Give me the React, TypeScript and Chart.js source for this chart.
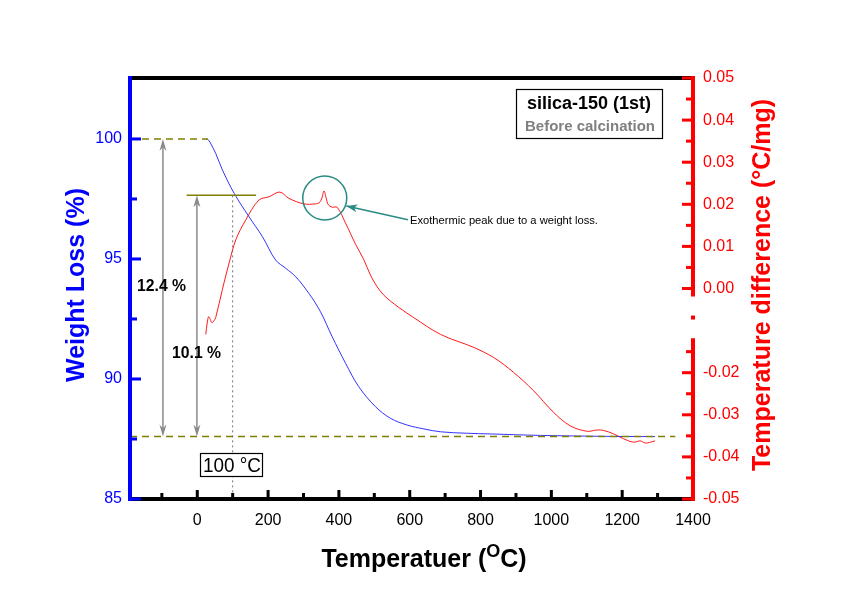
import React, { useEffect, useRef } from "react";
import { Chart, registerables } from "chart.js";

Chart.register(...registerables);

// ---- Data ----
const blueTemps = [25, 32, 40, 52, 71, 104, 146, 184, 221, 250, 278, 315, 348, 381, 419, 456, 503, 546, 593, 640, 687, 760, 828, 969, 1157, 1293];
const weightLoss = [100.0, 99.95, 99.75, 99.4, 98.71, 97.74, 96.76, 95.93, 94.96, 94.61, 94.26, 93.57, 92.8, 91.76, 90.65, 89.68, 88.85, 88.36, 88.08, 87.92, 87.8, 87.74, 87.71, 87.65, 87.61, 87.6];

const redTemps = [24, 28, 32, 37, 41, 46, 52, 71, 90, 109, 137, 174, 203, 233, 259, 301, 334, 345, 352, 358, 364, 370, 381, 395, 419, 433, 447, 470, 489, 508, 527, 546, 569, 611, 687, 781, 837, 893, 950, 1006, 1053, 1100, 1130, 1147, 1175, 1204, 1232, 1251, 1265, 1280, 1293];
const tempDiff = [-0.0109, -0.0082, -0.0067, -0.0074, -0.0081, -0.0078, -0.0069, -0.0002, 0.0061, 0.0116, 0.0163, 0.021, 0.0218, 0.0229, 0.0214, 0.0201, 0.0201, 0.0204, 0.0215, 0.0232, 0.0215, 0.0199, 0.0193, 0.0193, 0.0155, 0.013, 0.0105, 0.0069, 0.0032, 0.0004, -0.0016, -0.003, -0.0045, -0.0069, -0.0109, -0.014, -0.0164, -0.0199, -0.0243, -0.0294, -0.0326, -0.0339, -0.0336, -0.0337, -0.0345, -0.0357, -0.0365, -0.0362, -0.0367, -0.0365, -0.0362];

const xTickValues = [0, 200, 400, 600, 800, 1000, 1200, 1400];
const xMinorTicks = [-100, 100, 300, 500, 700, 900, 1100, 1300];
const leftTickValues = [85, 90, 95, 100];
const leftMinorTicks = [87.5, 92.5, 97.5];
const rightTickValues = [-0.05, -0.04, -0.03, -0.02, -0.01, 0, 0.01, 0.02, 0.03, 0.04, 0.05];
const rightHiddenLabels = [-0.01];
const rightMinorTicks = [-0.045, -0.035, -0.025, -0.015, 0.005, 0.015, 0.025, 0.035, 0.045];
const rightBreak = [-0.0118, -0.0019];

// annotation values
const initialWeight = 100;
const weightAt100 = 97.65;
const finalWeight = 87.6;
const totalLossLabel = "12.4 %";
const lossAfter100Label = "10.1 %";
const markerTemp = 100;
const markerLabel = "100 °C";
const peakTemp = 360;
const peakWeightLevel = 97.54;
const peakNote = "Exothermic peak due to a weight loss.";
const sampleName = "silica-150 (1st)";
const sampleState = "Before calcination";

const FONT = "'Liberation Sans', Arial, Helvetica, sans-serif";

function arrowHead(ctx: CanvasRenderingContext2D, x: number, y: number, dir: number, w: number, l: number) {
  ctx.beginPath();
  ctx.moveTo(x, y);
  ctx.lineTo(x - w / 2, y - dir * l);
  ctx.lineTo(x, y - dir * l * 0.7);
  ctx.lineTo(x + w / 2, y - dir * l);
  ctx.closePath();
  ctx.fill();
}

const overlayPlugin = {
  id: "overlay",
  afterDatasetsDraw(chart: any) {
    const { ctx, chartArea: ca, scales } = chart;
    const X = (v: number) => scales.x.getPixelForValue(v);
    const Y = (v: number) => scales.y.getPixelForValue(v);
    const Y2 = (v: number) => scales.y2.getPixelForValue(v);
    ctx.save();

    // olive reference lines
    ctx.strokeStyle = "#808000";
    ctx.lineWidth = 1.5;
    ctx.setLineDash([7, 5]);
    ctx.beginPath();
    ctx.moveTo(ca.left, Y(initialWeight));
    ctx.lineTo(X(30), Y(initialWeight));
    ctx.stroke();
    ctx.beginPath();
    ctx.moveTo(ca.left, Y(finalWeight));
    ctx.lineTo(X(1350), Y(finalWeight));
    ctx.stroke();
    ctx.setLineDash([]);
    ctx.beginPath();
    ctx.moveTo(X(-30), Y(weightAt100));
    ctx.lineTo(X(166), Y(weightAt100));
    ctx.stroke();

    // dotted vertical line at 100 °C
    ctx.strokeStyle = "#707070";
    ctx.lineWidth = 1;
    ctx.setLineDash([2, 3]);
    ctx.beginPath();
    ctx.moveTo(X(markerTemp), Y(weightAt100));
    ctx.lineTo(X(markerTemp), ca.bottom);
    ctx.stroke();
    ctx.setLineDash([]);

    // grey double arrows
    ctx.strokeStyle = "#8a8a8a";
    ctx.fillStyle = "#8a8a8a";
    ctx.lineWidth = 1.5;
    const arrows: [number, number][] = [[-97, initialWeight], [-1, weightAt100]];
    arrows.forEach(([t, top]) => {
      const ax = X(t);
      ctx.beginPath();
      ctx.moveTo(ax, Y(top) + 4);
      ctx.lineTo(ax, Y(finalWeight) - 4);
      ctx.stroke();
      arrowHead(ctx, ax, Y(top), -1, 7, 12);
      arrowHead(ctx, ax, Y(finalWeight), 1, 7, 12);
    });

    // percentage labels
    ctx.fillStyle = "#000";
    ctx.font = `bold 16px ${FONT}`;
    ctx.textBaseline = "middle";
    ctx.textAlign = "left";
    ctx.fillText(totalLossLabel, 137, 287, 49);
    ctx.fillText(lossAfter100Label, 172, 354, 49);

    // 100 °C box
    ctx.fillStyle = "#fff";
    ctx.fillRect(200, 453, 63, 24);
    ctx.strokeStyle = "#000";
    ctx.lineWidth = 1.2;
    ctx.strokeRect(200.5, 453.5, 62, 23);
    ctx.fillStyle = "#000";
    ctx.font = `21px ${FONT}`;
    ctx.textAlign = "center";
    ctx.fillText(markerLabel, 232, 466, 58);

    // teal circle and arrow
    const cx = X(peakTemp);
    const cy = Y(peakWeightLevel);
    ctx.strokeStyle = "#2a8a84";
    ctx.fillStyle = "#2a8a84";
    ctx.lineWidth = 1.5;
    ctx.beginPath();
    ctx.arc(cx, cy, 22, 0, Math.PI * 2);
    ctx.stroke();
    const tipX = X(421), tipY = Y(97.21);
    const tailX = X(595), tailY = Y(96.63);
    ctx.beginPath();
    ctx.moveTo(tailX, tailY);
    ctx.lineTo(tipX, tipY);
    ctx.stroke();
    const ang = Math.atan2(tipY - tailY, tipX - tailX);
    ctx.beginPath();
    ctx.moveTo(tipX, tipY);
    ctx.lineTo(tipX - 11 * Math.cos(ang) + 4 * Math.sin(ang), tipY - 11 * Math.sin(ang) - 4 * Math.cos(ang));
    ctx.lineTo(tipX - 8 * Math.cos(ang), tipY - 8 * Math.sin(ang));
    ctx.lineTo(tipX - 11 * Math.cos(ang) - 4 * Math.sin(ang), tipY - 11 * Math.sin(ang) + 4 * Math.cos(ang));
    ctx.closePath();
    ctx.fill();
    ctx.fillStyle = "#000";
    ctx.font = `11.5px ${FONT}`;
    ctx.textAlign = "left";
    ctx.fillText(peakNote, tailX + 2, tailY + 1, 188);

    // sample box
    ctx.fillStyle = "#fff";
    ctx.fillRect(516, 89, 147, 50);
    ctx.strokeStyle = "#000";
    ctx.lineWidth = 1.2;
    ctx.strokeRect(516.5, 89.5, 146, 49);
    ctx.textAlign = "center";
    ctx.fillStyle = "#000";
    ctx.font = `bold 18px ${FONT}`;
    ctx.fillText(sampleName, 589, 104, 132);
    ctx.fillStyle = "#808080";
    ctx.font = `bold 15px ${FONT}`;
    ctx.fillText(sampleState, 590, 127, 132);

    // ---- frame ----
    ctx.lineCap = "butt";
    ctx.strokeStyle = "#000";
    ctx.lineWidth = 4;
    ctx.beginPath();
    ctx.moveTo(ca.left - 2, ca.top);
    ctx.lineTo(ca.right + 2, ca.top);
    ctx.moveTo(ca.left - 2, ca.bottom);
    ctx.lineTo(ca.right + 2, ca.bottom);
    ctx.stroke();

    // bottom ticks (inward)
    ctx.fillStyle = "#000";
    xTickValues.forEach((v) => {
      if (v >= 1400) return;
      ctx.fillRect(X(v) - 1.5, ca.bottom - 9, 3, 9);
    });
    xMinorTicks.forEach((v) => ctx.fillRect(X(v) - 1.5, ca.bottom - 6, 3, 6));

    // left axis
    ctx.strokeStyle = "#0000ff";
    ctx.beginPath();
    ctx.moveTo(ca.left, ca.top - 2);
    ctx.lineTo(ca.left, ca.bottom + 2);
    ctx.stroke();
    ctx.fillStyle = "#0000ff";
    leftTickValues.forEach((v) => ctx.fillRect(ca.left, Y(v) - 1.5, 11, 3));
    leftMinorTicks.forEach((v) => ctx.fillRect(ca.left, Y(v) - 1.5, 7, 3));

    // right axis with break
    ctx.strokeStyle = "#ff0000";
    ctx.beginPath();
    ctx.moveTo(ca.right, ca.top - 2);
    ctx.lineTo(ca.right, Y2(rightBreak[1]));
    ctx.moveTo(ca.right, Y2(rightBreak[0]));
    ctx.lineTo(ca.right, ca.bottom + 2);
    ctx.stroke();
    ctx.fillStyle = "#ff0000";
    const inBreak = (v: number) => v > rightBreak[0] && v < rightBreak[1];
    rightTickValues.forEach((v) => {
      if (inBreak(v)) return;
      ctx.fillRect(ca.right - 11, Y2(v) - 1.5, 11, 3);
    });
    rightMinorTicks.forEach((v) => {
      if (inBreak(v)) return;
      ctx.fillRect(ca.right - 7, Y2(v) - 1.5, 7, 3);
    });
    ctx.fillRect(ca.right - 2, Y2(-0.0069) - 2, 4, 4);

    // ---- axis titles ----
    ctx.textBaseline = "middle";
    ctx.textAlign = "center";
    ctx.font = `bold 25px ${FONT}`;
    ctx.fillStyle = "#0000ff";
    ctx.save();
    ctx.translate(77, 285);
    ctx.rotate(-Math.PI / 2);
    ctx.fillText("Weight Loss (%)", 0, 0);
    ctx.restore();

    ctx.fillStyle = "#ff0000";
    ctx.save();
    ctx.translate(763, 285);
    ctx.rotate(-Math.PI / 2);
    ctx.fillText("Temperature difference (°C/mg)", 0, 0);
    ctx.restore();

    // x title with superscript O
    ctx.fillStyle = "#000";
    ctx.textBaseline = "alphabetic";
    ctx.textAlign = "left";
    const p1 = "Temperatuer (";
    const p2 = "O";
    const p3 = "C)";
    ctx.font = `bold 25px ${FONT}`;
    const w1 = ctx.measureText(p1).width;
    const w3 = ctx.measureText(p3).width;
    ctx.font = `bold 18px ${FONT}`;
    const w2 = ctx.measureText(p2).width;
    const total = w1 + w2 + w3;
    let sx = 424 - total / 2;
    const base = 567;
    ctx.font = `bold 25px ${FONT}`;
    ctx.fillText(p1, sx, base);
    sx += w1;
    ctx.font = `bold 18px ${FONT}`;
    ctx.fillText(p2, sx, base - 10);
    sx += w2;
    ctx.font = `bold 25px ${FONT}`;
    ctx.fillText(p3, sx, base);

    ctx.restore();
  },
};

export default function App() {
  const canvasRef = useRef<HTMLCanvasElement | null>(null);

  useEffect(() => {
    if (!canvasRef.current) return;
    const chart = new Chart(canvasRef.current, {
      type: "line",
      data: {
        datasets: [
          {
            label: "Weight Loss (%)",
            data: blueTemps.map((t, i) => ({ x: t, y: weightLoss[i] })),
            borderColor: "rgba(30,30,255,0.9)",
            borderWidth: 1,
            pointRadius: 0,
            tension: 0.35,
            yAxisID: "y",
          },
          {
            label: "Temperature difference (°C/mg)",
            data: redTemps.map((t, i) => ({ x: t, y: tempDiff[i] })),
            borderColor: "rgba(255,0,0,0.9)",
            borderWidth: 1,
            pointRadius: 0,
            tension: 0.35,
            yAxisID: "y2",
          },
        ],
      },
      options: {
        responsive: false,
        animation: false,
        devicePixelRatio: 1,
        layout: { padding: { top: 78, left: 0, right: 0, bottom: 0 } },
        plugins: { legend: { display: false }, tooltip: { enabled: false } },
        scales: {
          x: {
            type: "linear",
            min: -190,
            max: 1400,
            grid: { display: false, drawTicks: false },
            border: { display: false },
            afterBuildTicks: (s: any) => {
              s.ticks = xTickValues.map((v) => ({ value: v }));
            },
            afterFit: (s: any) => {
              s.height = 98;
            },
            ticks: {
              color: "#000",
              font: { family: FONT, size: 16 },
              padding: 12,
              autoSkip: false,
              maxRotation: 0,
              callback: (v: any) => String(Number(v)),
            },
          },
          y: {
            type: "linear",
            position: "left",
            min: 85,
            max: 102.54,
            grid: { display: false, drawTicks: false },
            border: { display: false },
            afterBuildTicks: (s: any) => {
              s.ticks = leftTickValues.map((v) => ({ value: v }));
            },
            afterFit: (s: any) => {
              s.width = 130;
            },
            ticks: {
              color: "#0000ff",
              font: { family: FONT, size: 16 },
              padding: 8,
              autoSkip: false,
              callback: (v: any) => String(Number(v)),
            },
          },
          y2: {
            type: "linear",
            position: "right",
            min: -0.05,
            max: 0.05,
            grid: { display: false, drawTicks: false },
            border: { display: false },
            afterBuildTicks: (s: any) => {
              s.ticks = rightTickValues.map((v) => ({ value: v }));
            },
            afterFit: (s: any) => {
              s.width = 152;
            },
            ticks: {
              color: "#ff0000",
              font: { family: FONT, size: 16 },
              padding: 10,
              autoSkip: false,
              callback: (v: any) => {
                const n = Number(v);
                if (rightHiddenLabels.some((h) => Math.abs(h - n) < 1e-6)) return "";
                return n.toFixed(2);
              },
            },
          },
        },
      },
      plugins: [overlayPlugin],
    });
    return () => chart.destroy();
  }, []);

  return (
    <div style={{ position: "absolute", left: 0, top: 0, width: 845, height: 597, background: "#fff" }}>
      <canvas ref={canvasRef} width={845} height={597} />
    </div>
  );
}
